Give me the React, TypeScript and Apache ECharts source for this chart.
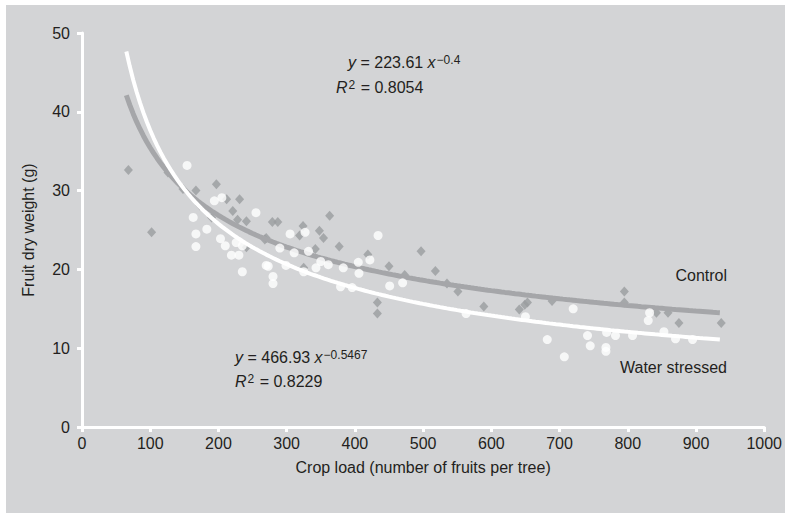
import React, { useEffect, useRef } from "react";
import * as echarts from "echarts";

const controlX = [68, 102, 126, 148, 167, 197, 231, 212, 221, 241, 173, 190, 228, 241, 270, 279, 287, 324, 319, 348, 354, 363, 377, 342, 419, 450, 268, 325, 497, 518, 535, 551, 589, 641, 653, 649, 689, 473, 433, 433, 795, 795, 842, 859, 875, 937];
const controlY = [32.6, 24.7, 32.3, 30.2, 30.0, 30.8, 28.9, 28.9, 27.4, 26.1, 28.1, 26.6, 26.3, 22.8, 24.0, 26.0, 26.0, 25.5, 24.3, 24.9, 24.0, 26.8, 22.9, 22.6, 21.9, 20.4, 23.8, 20.2, 22.3, 19.8, 18.2, 17.2, 15.3, 14.9, 15.8, 15.5, 16.0, 19.3, 15.8, 14.4, 17.2, 15.8, 14.5, 14.5, 13.2, 13.2];

const stressedX = [154, 163, 167, 167, 183, 194, 205, 203, 210, 219, 230, 226, 235, 235, 255, 270, 305, 327, 290, 311, 273, 280, 280, 299, 325, 343, 361, 383, 405, 406, 422, 434, 379, 396, 451, 470, 332, 350, 563, 650, 720, 682, 707, 741, 745, 769, 768, 768, 782, 807, 832, 830, 853, 870, 895];
const stressedY = [33.2, 26.6, 24.5, 22.9, 25.1, 28.7, 29.1, 23.9, 23.0, 21.8, 21.8, 23.4, 23.0, 19.7, 27.2, 20.5, 24.5, 24.7, 22.7, 22.1, 20.4, 19.1, 18.2, 20.5, 19.7, 20.2, 20.6, 20.2, 20.9, 19.5, 21.2, 24.3, 17.8, 17.7, 17.9, 18.3, 22.3, 21.0, 14.4, 14.0, 15.0, 11.1, 8.9, 11.6, 10.3, 12.0, 10.1, 9.6, 11.6, 11.6, 14.5, 13.5, 12.1, 11.2, 11.1];

// Fitted power trend lines as printed on the chart: y = a * x^b
const controlFit = { a: 223.61, b: -0.4 };
const stressedFit = { a: 466.93, b: -0.5467 };
const fitStart = 65;
const fitEnd = 935;

const xTicks = { min: 0, max: 1000, interval: 100 };
const yTicks = { min: 0, max: 50, interval: 10 };

const TXT = "#231f20";
const FONT = "'Liberation Sans', Arial, sans-serif";

function fitCurve(f: { a: number; b: number }) {
  const pts: number[][] = [];
  for (let x = fitStart; x <= fitEnd; x += 5) pts.push([x, f.a * Math.pow(x, f.b)]);
  return pts;
}

export default function App() {
  const ref = useRef<HTMLDivElement>(null);
  useEffect(() => {
    if (!ref.current) return;
    const chart = echarts.init(ref.current, null, { renderer: "svg" });
    const eqRich = {
      i: { fontStyle: "italic", fontSize: 16, color: TXT, fontFamily: FONT, lineHeight: 22, verticalAlign: "middle" },
      n: { fontSize: 16, color: TXT, fontFamily: FONT, lineHeight: 22, verticalAlign: "middle" },
      s: { fontSize: 12, color: TXT, fontFamily: FONT, lineHeight: 16, verticalAlign: "middle", padding: [0, 1, 5, 1] },
    };
    const txt = (left: number, top: number, text: string) => ({
      type: "text",
      left,
      top,
      z: 100,
      style: { text, rich: eqRich, fill: TXT, font: `16px ${FONT}` },
    });
    chart.setOption({
      animation: false,
      backgroundColor: "#ffffff",
      textStyle: { fontFamily: FONT },
      graphic: [
        { type: "rect", shape: { x: 6, y: 5, width: 779, height: 508 }, style: { fill: "#d3d4d6" }, z: -10, silent: true },
        txt(348, 54, "{i|y}{n| = 223.61 }{i|x}{s|−0.4}"),
        txt(336, 79, "{i|R}{s|2}{n| = 0.8054}"),
        txt(235, 349, "{i|y}{n| = 466.93 }{i|x}{s|−0.5467}"),
        txt(235, 373, "{i|R}{s|2}{n| = 0.8229}"),
        { type: "text", right: 58, top: 267, z: 100, style: { text: "Control", fill: TXT, font: `16px ${FONT}` } },
        { type: "text", right: 58, top: 359, z: 100, style: { text: "Water stressed", fill: TXT, font: `16px ${FONT}` } },
      ],
      grid: { left: 82, right: 15, top: 33, bottom: 86, containLabel: false },
      xAxis: {
        type: "value",
        min: xTicks.min,
        max: xTicks.max,
        interval: xTicks.interval,
        name: "Crop load (number of fruits per tree)",
        nameLocation: "middle",
        nameGap: 32,
        nameTextStyle: { color: TXT, fontSize: 16, fontFamily: FONT },
        axisLine: { lineStyle: { color: "#ffffff", width: 3 } },
        axisTick: { show: true, length: 5, lineStyle: { color: "#ffffff", width: 3 } },
        axisLabel: { color: TXT, fontSize: 16, margin: 8, fontFamily: FONT, formatter: (v: number) => String(v) },
        splitLine: { show: false },
      },
      yAxis: {
        type: "value",
        min: yTicks.min,
        max: yTicks.max,
        interval: yTicks.interval,
        name: "Fruit dry weight (g)",
        nameLocation: "middle",
        nameGap: 46,
        nameRotate: 90,
        nameTextStyle: { color: TXT, fontSize: 16, fontFamily: FONT },
        axisLine: { show: true, lineStyle: { color: "#ffffff", width: 3 } },
        axisTick: { show: true, length: 5, lineStyle: { color: "#ffffff", width: 3 } },
        axisLabel: { color: TXT, fontSize: 16, margin: 12, fontFamily: FONT, formatter: (v: number) => String(v) },
        splitLine: { show: false },
      },
      series: [
        {
          name: "Control",
          type: "scatter",
          symbol: "diamond",
          symbolSize: [9, 10],
          itemStyle: { color: "#9a9c9f" },
          data: controlX.map((x, i) => [x, controlY[i]]),
          z: 2,
        },
        {
          name: "Control fit",
          type: "line",
          showSymbol: false,
          lineStyle: { color: "#a5a6a9", width: 5 },
          data: fitCurve(controlFit),
          z: 3,
        },
        {
          name: "Water stressed",
          type: "scatter",
          symbol: "circle",
          symbolSize: 9,
          itemStyle: { color: "#ffffff" },
          data: stressedX.map((x, i) => [x, stressedY[i]]),
          z: 4,
        },
        {
          name: "Water stressed fit",
          type: "line",
          showSymbol: false,
          lineStyle: { color: "#ffffff", width: 4 },
          data: fitCurve(stressedFit),
          z: 5,
        },
      ],
    });
    return () => chart.dispose();
  }, []);
  return <div ref={ref} style={{ position: "absolute", left: 0, top: 0, width: 785, height: 513 }} />;
}
